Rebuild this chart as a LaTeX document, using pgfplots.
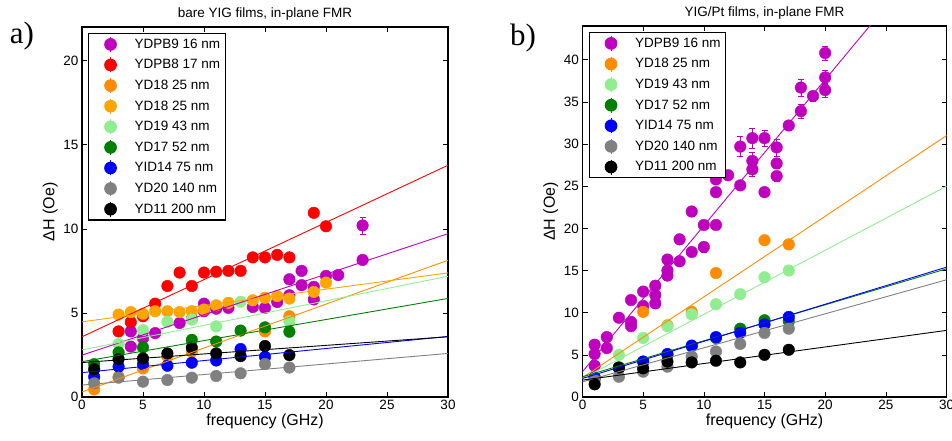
\documentclass[border=0pt]{standalone}
\usepackage{pgfplots}
\pgfplotsset{compat=1.18}
\usepackage{fontspec}
\setmainfont{Liberation Sans}
\newfontfamily\seriffont{Liberation Serif}
\definecolor{cmag}{RGB}{191,0,191}
\definecolor{cred}{RGB}{255,0,0}
\definecolor{cdorange}{RGB}{255,140,0}
\definecolor{corange}{RGB}{255,165,0}
\definecolor{clgreen}{RGB}{144,238,144}
\definecolor{cgreen}{RGB}{0,128,0}
\definecolor{cblue}{RGB}{0,0,255}
\definecolor{cgray}{RGB}{128,128,128}
\definecolor{cblack}{RGB}{0,0,0}
\pgfplotsset{
  myaxis/.style={
    scale only axis, xmin=0, xmax=30, xtick={0,5,...,30},
    tick align=inside, major tick length=5pt,
    tick style={black, line width=0.6pt},
    axis line style={line width=1.1pt},
    ticklabel style={font=\fontsize{13.5}{13.5}\selectfont},
    /pgf/number format/assume math mode=true,
    label style={font=\fontsize{16}{16}\selectfont},
    title style={font=\fontsize{13.5}{13.5}\selectfont, yshift=-3pt},
    xlabel={frequency (GHz)}, ylabel={ΔH (Oe)},
    xlabel style={yshift=3pt}, ylabel style={yshift=-1pt},
    clip mode=individual,
    legend cell align=left,
    legend style={at={(0,1)}, anchor=north west, xshift=6pt, yshift=-6pt,
      draw=black, line width=1.1pt, font=\fontsize{13.5}{13.5}\selectfont,
      row sep=4.9pt, inner sep=3pt, nodes={inner sep=2pt}},
    legend image code/.code={
      \path[draw=none, fill=none] (0pt,-1pt) rectangle (41pt,1pt);
      \draw[##1, mark=none, line width=0.7pt] (19pt,-7.5pt) -- (19pt,7.5pt);
      \draw[##1, only marks] plot coordinates {(19pt,0pt)};
    },
  },
  pts/.style={only marks, mark=*, mark size=5.8pt, color=#1, fill=#1, draw=#1,
    error bars/.cd, y dir=both, y explicit,
    error bar style={color=#1, line width=0.7pt}, error mark options={rotate=90, mark size=3pt, color=#1}},
  fit/.style={no marks, color=#1, line width=0.9pt, forget plot},
}
\begin{document}
\begin{tikzpicture}[x=1pt,y=1pt]
\useasboundingbox (0,0) rectangle (952,441);
\node[font=\seriffont\fontsize{31}{31}\selectfont, anchor=center] at (22,405) {a)};
\node[font=\seriffont\fontsize{31}{31}\selectfont, anchor=center] at (523,403) {b)};
% ---------------- panel a ----------------
\begin{axis}[myaxis, at={(82pt,44pt)}, anchor=south west, width=366pt, height=370pt,
  ymin=0, ymax=22, ytick={0,5,10,15,20}, title={bare YIG films, in-plane FMR}]
\addplot[pts=cmag] table[x=f,y=v,y error=e] {
f v e
4 3.0 0.15
4 3.9 0.15
5 3.5 0.15
6 3.8 0.15
8 4.4 0.15
9 4.65 0.15
10 5.55 0.15
10 5.1 0.15
11 5.25 0.15
12 5.3 0.15
14 5.35 0.15
15 5.3 0.15
16 5.65 0.15
17 7.0 0.15
17 6.05 0.15
18 7.5 0.15
18 6.65 0.15
19 5.8 0.2
19 6.55 0.2
20 7.2 0.2
21 7.25 0.2
23 8.15 0.2
23 10.2 0.5
};
\addlegendentry{YDPB9 16 nm}
\addplot[pts=cred] table[x=f,y=v,y error=e] {
f v e
3 3.9 0.15
4 4.45 0.15
5 4.8 0.15
6 5.55 0.15
7 6.6 0.15
8 7.4 0.15
9 6.6 0.15
10 7.4 0.15
11 7.45 0.15
12 7.5 0.15
13 7.5 0.15
14 8.3 0.15
15 8.3 0.15
16 8.45 0.15
17 8.3 0.15
19 10.95 0.15
20 10.15 0.15
};
\addlegendentry{YDPB8 17 nm}
\addplot[pts=cdorange] table[x=f,y=v,y error=e] {
f v e
1 0.45 0.15
3 1.2 0.15
5 1.7 0.15
7 2.4 0.15
9 2.7 0.15
15 3.9 0.15
17 4.8 0.15
};
\addlegendentry{YD18 25 nm}
\addplot[pts=corange] table[x=f,y=v,y error=e] {
f v e
3 4.9 0.15
4 5.05 0.15
5 4.95 0.15
6 5.1 0.15
7 5.1 0.15
8 5.05 0.15
9 5.1 0.15
10 5.2 0.15
11 5.45 0.15
12 5.6 0.15
14 5.75 0.15
15 5.9 0.15
16 6.0 0.15
17 5.85 0.15
19 6.25 0.15
20 6.8 0.15
};
\addlegendentry{YD18 25 nm}
\addplot[pts=clgreen] table[x=f,y=v,y error=e] {
f v e
3 3.15 0.15
5 3.98 0.15
7 4.47 0.15
9 4.6 0.15
11 4.2 0.15
13 5.66 0.15
17 4.5 0.15
};
\addlegendentry{YD19 43 nm}
\addplot[pts=cgreen] table[x=f,y=v,y error=e] {
f v e
1 1.95 0.15
3 2.65 0.15
5 2.95 0.15
9 3.4 0.15
11 3.3 0.15
13 3.95 0.15
15 4.14 0.15
17 3.88 0.15
};
\addlegendentry{YD17 52 nm}
\addplot[pts=cblue] table[x=f,y=v,y error=e] {
f v e
1 1.2 0.15
3 1.8 0.15
5 1.95 0.15
7 1.86 0.15
9 2.04 0.15
11 2.17 0.15
13 2.85 0.15
15 2.39 0.15
};
\addlegendentry{YID14 75 nm}
\addplot[pts=cgray] table[x=f,y=v,y error=e] {
f v e
1 0.81 0.1
3 1.15 0.1
5 0.91 0.1
7 1.01 0.1
9 1.15 0.1
11 1.25 0.1
13 1.41 0.1
15 1.96 0.1
17 1.75 0.1
};
\addlegendentry{YD20 140 nm}
\addplot[pts=cblack] table[x=f,y=v,y error=e] {
f v e
1 1.65 0.15
3 2.25 0.15
5 2.29 0.15
7 2.59 0.15
9 2.93 0.15
11 2.59 0.15
13 2.43 0.15
15 3.03 0.15
17 2.49 0.15
};
\addlegendentry{YD11 200 nm}
\addplot[fit=cred] coordinates {(0,3.58) (30,13.78)};
\addplot[fit=cmag] coordinates {(0,2.49) (30,9.71)};
\addplot[fit=cdorange] coordinates {(0,0.3) (30,8.13)};
\addplot[fit=corange] coordinates {(0,4.47) (30,7.38)};
\addplot[fit=clgreen] coordinates {(0,2.8) (30,7.18)};
\addplot[fit=cgreen] coordinates {(0,2.1) (30,5.86)};
\addplot[fit=cgray] coordinates {(0,0.71) (30,2.59)};
\addplot[fit=cblue] coordinates {(0,1.45) (30,3.6)};
\addplot[fit=cblack] coordinates {(0,2.05) (30,3.58)};
\end{axis}
% ---------------- panel b ----------------
\begin{axis}[myaxis, at={(582.5pt,44pt)}, anchor=south west, width=364pt, height=371pt,
  ymin=0, ymax=44, ytick={0,5,...,40}, title={YIG/Pt films, in-plane FMR}]
\addplot[pts=cmag] table[x=f,y=v,y error=e] {
f v e
1 6.2 0.4
1 5.1 0.4
1 3.7 0.4
2 7.1 0.4
2 5.8 0.4
3 9.4 0.4
4 11.5 0.4
4 8.9 0.4
4 8.4 0.4
5 12.5 0.4
5 10.8 0.4
6 13.2 0.4
6 12.1 0.4
6 11.1 0.4
7 16.3 0.5
7 15.0 0.5
7 14.4 0.5
8 18.7 0.5
8 16.1 0.5
9 22.0 0.5
9 17.2 0.5
10 20.4 0.5
10 17.8 0.6
11 25.8 0.5
11 24.3 0.5
11 20.4 0.5
12 26.3 0.5
13 29.7 1.2
13 25.1 0.5
14 30.7 1.2
14 28.0 1.0
14 27.0 0.8
15 30.7 1.0
15 24.3 0.5
16 29.6 1.0
16 27.7 0.6
16 26.2 0.6
17 32.2 0.6
18 36.7 1.0
18 33.9 0.8
19 35.7 0.6
20 40.8 0.8
20 37.9 0.8
20 36.4 0.8
};
\addlegendentry{YDPB9 16 nm}
\addplot[pts=cdorange] table[x=f,y=v,y error=e] {
f v e
5 10.1 0.3
7 8.5 0.3
9 10.1 0.3
11 14.7 0.3
15 18.6 0.3
17 18.1 0.3
};
\addlegendentry{YD18 25 nm}
\addplot[pts=clgreen] table[x=f,y=v,y error=e] {
f v e
3 5.0 0.3
5 7.0 0.3
7 8.4 0.3
9 9.8 0.3
11 11.0 0.3
13 12.2 0.3
15 14.2 0.3
17 15.0 0.3
};
\addlegendentry{YD19 43 nm}
\addplot[pts=cgreen] table[x=f,y=v,y error=e] {
f v e
1 2.3 0.3
3 3.5 0.3
5 4.2 0.3
7 5.0 0.3
9 6.0 0.3
11 7.0 0.3
13 8.1 0.3
15 9.1 0.3
17 9.0 0.3
};
\addlegendentry{YD17 52 nm}
\addplot[pts=cblue] table[x=f,y=v,y error=e] {
f v e
1 2.3 0.3
3 3.4 0.3
5 4.2 0.3
7 5.1 0.3
9 6.1 0.3
11 7.1 0.3
13 7.6 0.3
15 8.6 0.3
17 9.5 0.3
};
\addlegendentry{YID14 75 nm}
\addplot[pts=cgray] table[x=f,y=v,y error=e] {
f v e
1 2.0 0.3
3 2.4 0.3
5 3.0 0.3
7 3.6 0.3
9 4.8 0.3
11 5.4 0.3
13 6.3 0.3
15 7.6 0.3
17 8.1 0.3
};
\addlegendentry{YD20 140 nm}
\addplot[pts=cblack] table[x=f,y=v,y error=e] {
f v e
1 1.5 0.3
3 3.5 0.3
5 3.4 0.3
7 4.2 0.3
9 4.1 0.3
11 4.3 0.3
13 4.1 0.3
15 5.0 0.3
17 5.6 0.3
};
\addlegendentry{YD11 200 nm}
\addplot[fit=cmag] coordinates {(0,3.0) (25,46.3)};
\addplot[fit=cdorange] coordinates {(0,2.3) (30,31.0)};
\addplot[fit=clgreen] coordinates {(0,2.2) (30,25.0)};
\addplot[fit=cgreen] coordinates {(0,2.4) (30,15.2)};
\addplot[fit=cgray] coordinates {(0,1.8) (30,13.9)};
\addplot[fit=cblue] coordinates {(0,2.2) (30,15.4)};
\addplot[fit=cblack] coordinates {(0,2.0) (30,7.9)};
\end{axis}
\end{tikzpicture}
\end{document}
